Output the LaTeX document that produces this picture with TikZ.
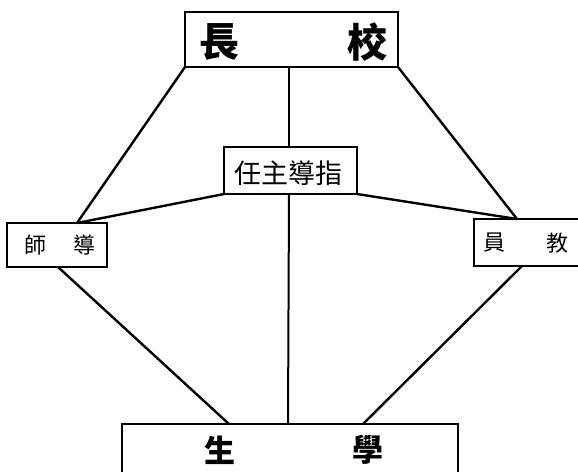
\documentclass[tikz,border=0pt]{standalone}
\usepackage{fontspec}
\newfontfamily\cjk{Noto Sans CJK TC}
\begin{document}
\begin{tikzpicture}[x=1pt,y=-1pt,
  box/.style={draw, line width=1.4pt, inner sep=0pt, outer sep=0pt, rectangle},
  link/.style={line width=2.4pt, line cap=round},
  big/.style={font=\cjk\bfseries\fontsize{40}{40}\selectfont, inner sep=0pt},
  mid/.style={font=\cjk\fontsize{27}{27}\selectfont, inner sep=0pt},
  sml/.style={font=\cjk\fontsize{22}{22}\selectfont, inner sep=0pt},
  bot/.style={font=\cjk\bfseries\fontsize{31}{31}\selectfont, inner sep=0pt}]
\useasboundingbox (0,0) rectangle (578,471);
\fill[white] (0,0) rectangle (578,471);
\begin{scope}
\clip (0,0) rectangle (578,471);
% boxes
\node[box, minimum width=213pt, minimum height=55pt] (top) at (291.5,39.5) {};
\node[box, minimum width=133pt, minimum height=47pt] (mid) at (290.5,170.5) {};
\node[box, minimum width=100pt, minimum height=44pt] (left) at (57,245) {};
\node[box, minimum width=112pt, minimum height=47pt] (right) at (530,242.5) {};
\node[box, minimum width=336pt, minimum height=60pt] (bottom) at (290,454) {};
% texts
\node[big] (t1) at (219,42) {長};
\node[big] (t2) at (367,42) {校};
\node[mid] (m1) at (288,173) {任主導指};
\node[sml] (l1) at (35,245) {師};
\node[sml] (l2) at (84,245) {導};
\node[sml] (r1) at (494,243) {員};
\node[sml] (r2) at (557,243) {教};
\node[bot] (b1) at (220,450) {生};
\node[bot] (b2) at (368,450) {學};
% junctions
\coordinate (jLt) at (77,223);
\coordinate (jLb) at (58,267);
\coordinate (jRt) at (517,219);
\coordinate (jRb) at (522,266);
\coordinate (jB1) at (229,424);
\coordinate (jB2) at (288,424);
\coordinate (jB3) at (363,424);
\coordinate (jT) at (289,67);
\coordinate (jMt) at (289,147);
\coordinate (jMb) at (289,194);
% connectors
\draw[link] (top.south west) -- (jLt);
\draw[link] (top.south east) -- (jRt);
\draw[link] (mid.south west) -- (jLt);
\draw[link] (mid.south east) -- (jRt);
\draw[link, line width=2pt] (jT) -- (jMt);
\draw[link, line width=2pt] (jMb) -- (jB2);
\draw[link] (jLb) -- (jB1);
\draw[link] (jRb) -- (jB3);
\end{scope}
\end{tikzpicture}
\end{document}
